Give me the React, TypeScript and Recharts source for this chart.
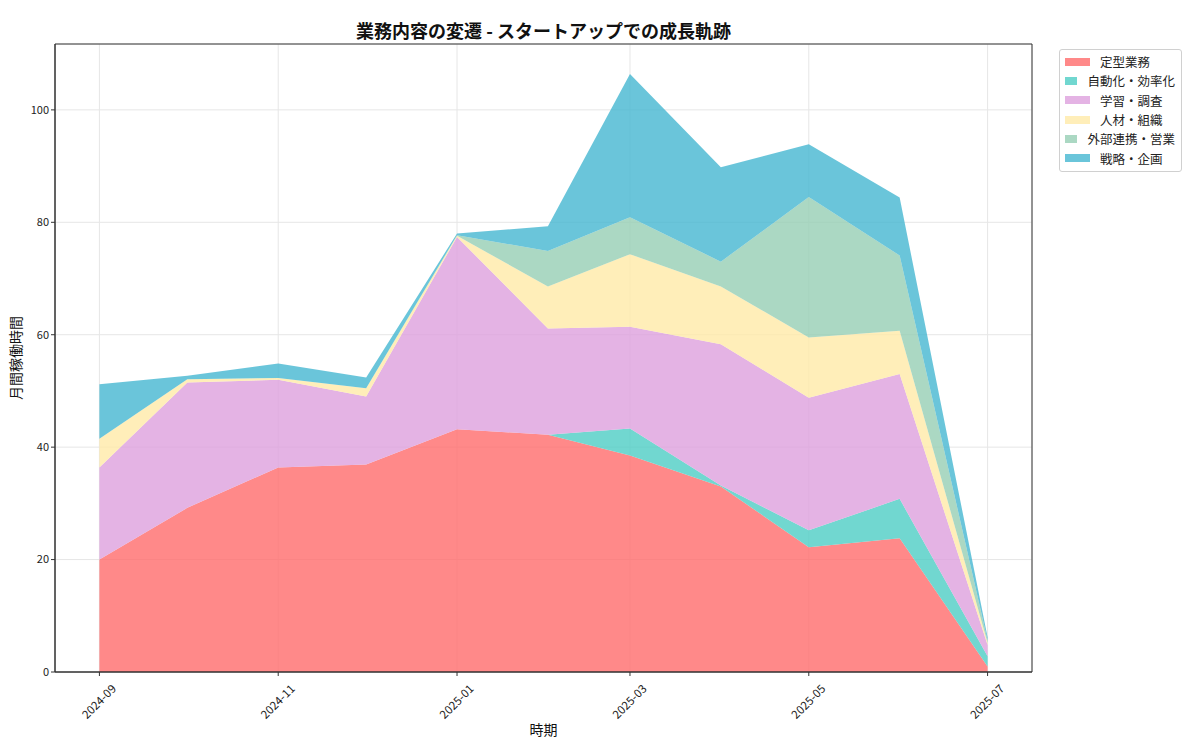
import React from "react";
import {
  AreaChart,
  Area,
  XAxis,
  YAxis,
  CartesianGrid,
  ReferenceArea,
} from "recharts";

const months = [
  "2024-09", "2024-10", "2024-11", "2024-12", "2025-01", "2025-02",
  "2025-03", "2025-04", "2025-05", "2025-06", "2025-07",
];
const routine = [20.0, 29.2, 36.4, 36.9, 43.2, 42.2, 38.5, 33.0, 22.2, 23.8, 1.0];
const automation = [0, 0, 0, 0, 0, 0, 4.8, 0.2, 3.0, 7.0, 1.8];
const learning = [16.4, 22.3, 15.6, 12.1, 34.2, 18.9, 18.1, 25.1, 23.6, 22.2, 2.0];
const people = [5.1, 0.6, 0.3, 1.5, 0.2, 7.5, 12.9, 10.3, 10.7, 7.7, 0.4];
const external = [0, 0, 0, 0, 0.1, 6.3, 6.6, 4.4, 25.0, 13.4, 0.4];
const strategy = [9.7, 0.6, 2.6, 1.9, 0.3, 4.4, 25.5, 16.8, 9.4, 10.3, 0.6];

const tickMonths = ["2024-09", "2024-11", "2025-01", "2025-03", "2025-05", "2025-07"];
const yTicks = [0, 20, 40, 60, 80, 100];

const seriesNames = [
  "定型業務",
  "自動化・効率化",
  "学習・調査",
  "人材・組織",
  "外部連携・営業",
  "戦略・企画",
];
const seriesKeys = ["routine", "automation", "learning", "people", "external", "strategy"];
const seriesColors = ["#FF6B6B", "#4ECDC4", "#DDA0DD", "#FFEAA7", "#96CEB4", "#45B7D1"];

const toTs = (m: string) => {
  const [y, mo] = m.split("-").map(Number);
  return Date.UTC(y, mo - 1, 1);
};

const data = months.map((m, i) => ({
  t: toTs(m),
  routine: routine[i],
  automation: automation[i],
  learning: learning[i],
  people: people[i],
  external: external[i],
  strategy: strategy[i],
}));

const tMin = toTs(months[0]);
const tMax = toTs(months[months.length - 1]);
const xPad = (tMax - tMin) * 0.05;
const xLo = tMin - xPad;
const xHi = tMax + xPad;
const totals = months.map(
  (_, i) => routine[i] + automation[i] + learning[i] + people[i] + external[i] + strategy[i]
);
const yMax = Math.max(...totals) * 1.05;

const FONT = "'Noto Sans CJK JP', 'Noto Sans', sans-serif";

const fmtMonth = (ts: number) => {
  const d = new Date(ts);
  const y = d.getUTCFullYear();
  const m = String(d.getUTCMonth() + 1).padStart(2, "0");
  return `${y}-${m}`;
};

const XTick = (props: any) => {
  const { x, y, payload } = props;
  return (
    <g transform={`translate(${x},${y})`}>
      <text
        x={0}
        y={0}
        textAnchor="middle"
        transform="translate(-1,23) rotate(-45)"
        fontSize={11.5}
        fill="#222"
        fontFamily={FONT}
        dominantBaseline="central"
      >
        {fmtMonth(payload.value)}
      </text>
    </g>
  );
};

const LegendBox = () => (
  <div
    style={{
      position: "absolute",
      left: 1059,
      top: 49,
      border: "1px solid #d0d0d0",
      borderRadius: 3,
      background: "#fff",
      padding: "2px 6px 3px 5px",
      fontFamily: FONT,
      fontSize: 12.5,
      color: "#222",
      width: 110,
    }}
  >
    {seriesNames.map((n, i) => (
      <div
        key={n}
        style={{ display: "flex", alignItems: "center", height: 19.3 }}
      >
        <span
          style={{
            display: "inline-block",
            width: 25,
            height: 8,
            background: seriesColors[i],
            opacity: 0.8,
            marginRight: 10,
          }}
        />
        <span style={{ whiteSpace: "nowrap" }}>{n}</span>
      </div>
    ))}
  </div>
);

export default function App() {
  return (
    <div style={{ position: "absolute", left: 0, top: 0, width: 1200, height: 746, background: "#fff" }}>
      <AreaChart
        width={1200}
        height={746}
        data={data}
        margin={{ top: 44, right: 168, bottom: 14, left: 15 }}
        style={{ position: "absolute", left: 0, top: 0 }}
      >
        <CartesianGrid stroke="#e6e6e6" strokeWidth={1} />
        <XAxis
          dataKey="t"
          type="number"
          scale="time"
          domain={[xLo, xHi]}
          ticks={tickMonths.map(toTs)}
          tick={<XTick />}
          tickSize={4}
          height={60}
          axisLine={{ stroke: "#333" }}
          tickLine={{ stroke: "#333" }}
          allowDataOverflow
        />
        <YAxis
          type="number"
          domain={[0, yMax]}
          ticks={yTicks}
          tickSize={4}
          width={40}
          axisLine={{ stroke: "#333" }}
          tickLine={{ stroke: "#333" }}
          tick={{ fontSize: 11, fill: "#222", fontFamily: FONT }}
          allowDataOverflow
        />
        {seriesKeys.map((k, i) => (
          <Area
            key={k}
            type="linear"
            dataKey={k}
            name={seriesNames[i]}
            stackId="1"
            stroke="none"
            fill={seriesColors[i]}
            fillOpacity={0.8}
            isAnimationActive={false}
            dot={false}
            activeDot={false}
          />
        ))}
        <ReferenceArea
          x1={xLo}
          x2={xHi}
          y1={0}
          y2={yMax}
          fill="none"
          fillOpacity={0}
          stroke="#333"
          strokeWidth={1}
          ifOverflow="visible"
        />
      </AreaChart>
      <div
        style={{
          position: "absolute",
          left: 0,
          width: 1087,
          top: 17,
          textAlign: "center",
          fontFamily: FONT,
          fontWeight: 700,
          fontSize: 18,
          color: "#111",
        }}
      >
        業務内容の変遷 - スタートアップでの成長軌跡
      </div>
      <div
        style={{
          position: "absolute",
          left: 5,
          top: 358,
          transform: "translate(0,-50%) rotate(-90deg)",
          transformOrigin: "center",
          fontFamily: FONT,
          fontSize: 14,
          color: "#111",
          width: 20,
          height: 100,
          display: "flex",
          alignItems: "center",
          justifyContent: "center",
        }}
      >
        <span style={{ whiteSpace: "nowrap" }}>月間稼働時間</span>
      </div>
      <div
        style={{
          position: "absolute",
          left: 0,
          width: 1087,
          top: 719,
          textAlign: "center",
          fontFamily: FONT,
          fontSize: 14,
          color: "#111",
        }}
      >
        時期
      </div>
      <LegendBox />
    </div>
  );
}
